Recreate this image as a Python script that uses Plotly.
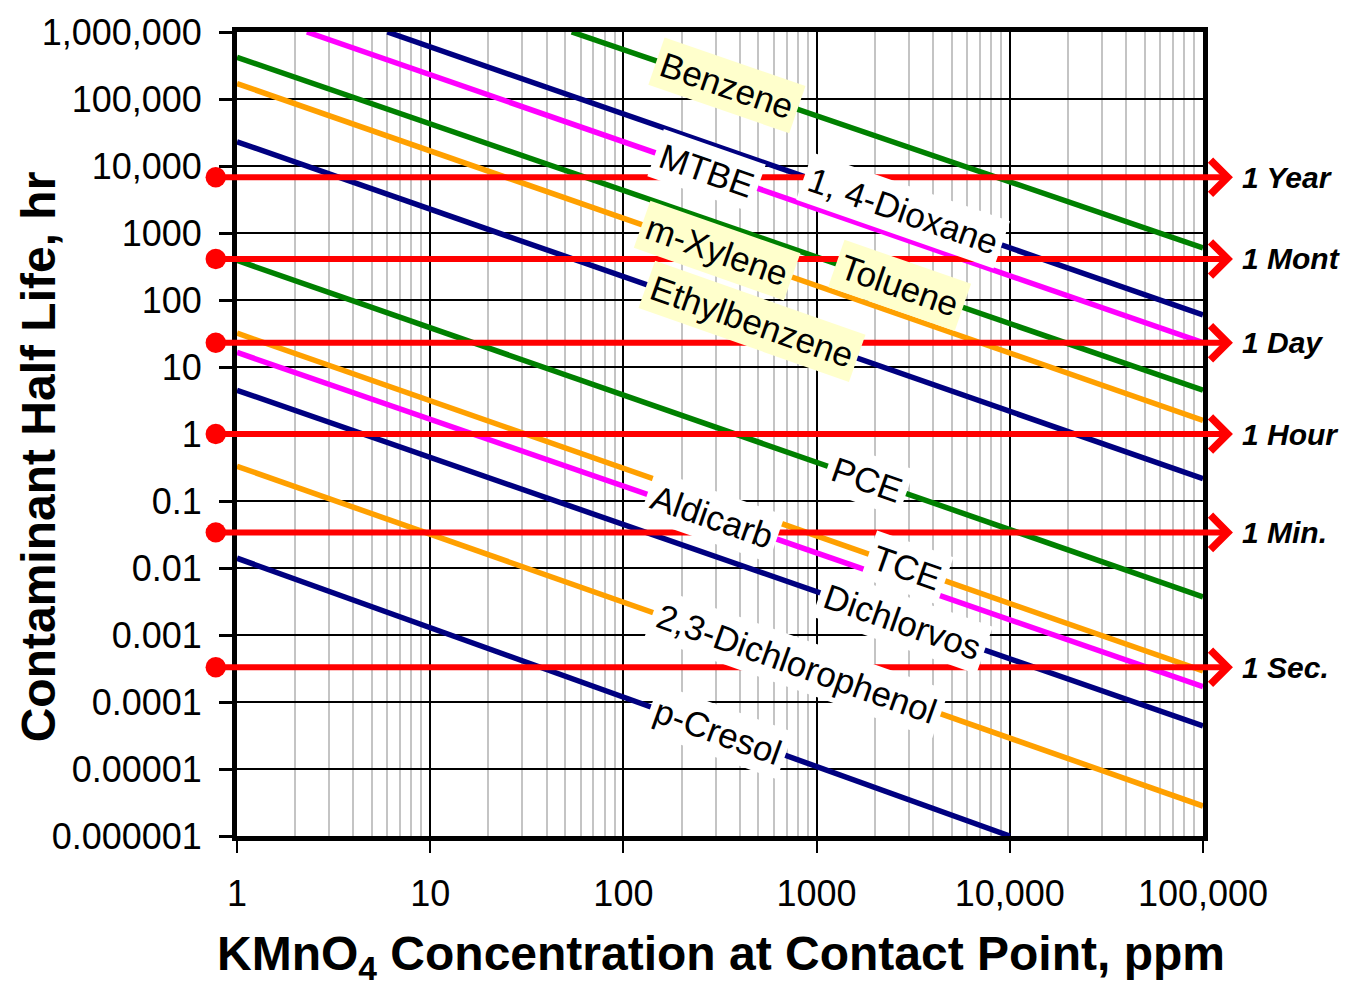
import numpy as np
import plotly.graph_objects as go

# ---------------- data ----------------
names = ["Benzene", "1, 4-Dioxane", "MTBE", "Toluene", "m-Xylene", "Ethylbenzene",
         "PCE", "TCE", "Aldicarb", "Dichlorvos", "2,3-Dichlorophenol", "p-Cresol"]
x_start = [54, 6, 2.3, 1, 1, 1, 1, 1, 1, 1, 1, 1]                      # ppm
x_end = [1e5, 1e5, 1e5, 1e5, 1e5, 1e5, 1e5, 1e5, 1e5, 1e5, 1e5, 1e4]   # ppm
y_start = [1e6, 1e6, 1e6, 4.2e5, 1.7e5, 2.3e4, 390, 32, 16.5, 4.5, 0.33, 0.014]  # hr
y_end = [600, 60, 23, 4.5, 1.6, 0.215, 0.0037, 0.00029, 0.00017, 4.4e-5, 2.8e-6, 1e-6]  # hr
label_x = [345, 2800, 270, 2700, 305, 465, 1820, 2940, 288, 2770, 790, 309]  # ppm where label sits

ref_names = ["1 Year", "1 Mont", "1 Day", "1 Hour", "1 Min.", "1 Sec."]
ref_vals = [6800, 410, 23, 1, 0.034, 0.00033]  # hr

x_tickvals = [1, 10, 100, 1000, 10000, 100000]
x_ticktext = ["1", "10", "100", "1000", "10,000", "100,000"]
y_tickvals = [1e6, 1e5, 1e4, 1e3, 1e2, 10, 1, 0.1, 0.01, 0.001, 1e-4, 1e-5, 1e-6]
y_ticktext = ["1,000,000", "100,000", "10,000", "1000", "100", "10", "1", "0.1",
              "0.01", "0.001", "0.0001", "0.00001", "0.000001"]

# ---------------- styles ----------------
line_colors = ["#008000", "#000080", "#FF00FF", "#008000", "#FFA000", "#000080",
               "#008000", "#FFA000", "#FF00FF", "#000080", "#FFA000", "#000080"]
label_bg = ["#FFFFCC", "#FFFFFF", "#FFFFFF", "#FFFFCC", "#FFFFCC", "#FFFFCC",
            "#FFFFFF", "#FFFFFF", "#FFFFFF", "#FFFFFF", "#FFFFFF", "#FFFFFF"]

W, H = 1347, 989
ML, MR, MT, MB = 237, 144, 27, 153
plot_w = W - ML - MR
plot_h = H - MT - MB
px_per_dec_x = plot_w / 5.0
px_per_dec_y = plot_h / 12.0
FONT = "Liberation Sans, Arial, sans-serif"

fig = go.Figure()

for i, n in enumerate(names):
    fig.add_trace(go.Scatter(
        x=[x_start[i], x_end[i]], y=[y_start[i], y_end[i]], mode="lines",
        line=dict(color=line_colors[i], width=5.5), name=n, showlegend=False,
        hoverinfo="skip"))

annotations = []

# reference lines (drawn as arrows so they may run outside the plot area)
for nm, v in zip(ref_names, ref_vals):
    lv = np.log10(v)
    annotations.append(dict(
        xref="x domain", yref="y", axref="x domain", ayref="y",
        x=1.031, y=lv, ax=-0.0225, ay=lv, text=" ", showarrow=True,
        arrowhead=4, arrowsize=1.1, arrowwidth=6, arrowcolor="#FF0000",
        arrowside="end+start", startarrowhead=6, startarrowsize=0.85,
        standoff=0, startstandoff=0, font=dict(size=1), borderpad=0))
    annotations.append(dict(
        xref="x domain", yref="y", x=1.038, y=lv, xanchor="left", yanchor="middle",
        text=nm, showarrow=False,
        font=dict(family=FONT, size=30, color="black", weight="bold", style="italic")))

# line labels
for i, n in enumerate(names):
    lx0, lx1 = np.log10(x_start[i]), np.log10(x_end[i])
    ly0, ly1 = np.log10(y_start[i]), np.log10(y_end[i])
    slope = (ly1 - ly0) / (lx1 - lx0)
    lx = np.log10(label_x[i])
    ly = ly0 + slope * (lx - lx0)
    ang = np.degrees(np.arctan(-slope * px_per_dec_y / px_per_dec_x))
    annotations.append(dict(
        xref="x", yref="y", x=lx, y=ly, text=n, showarrow=False, textangle=ang,
        bgcolor=label_bg[i], borderpad=5,
        font=dict(family=FONT, size=35, color="black")))

# axis titles
annotations.append(dict(
    xref="paper", yref="paper", x=(721 - ML) / plot_w, y=(MT + plot_h - 958) / plot_h,
    text="KMnO<sub>4</sub> Concentration at Contact Point, ppm", showarrow=False,
    xanchor="center", yanchor="middle",
    font=dict(family=FONT, size=48, color="black", weight="bold")))
annotations.append(dict(
    xref="paper", yref="paper", x=(38 - ML) / plot_w, y=(MT + plot_h - 455) / plot_h,
    text="Contaminant Half Life, hr", showarrow=False, textangle=-90,
    xanchor="center", yanchor="middle",
    font=dict(family=FONT, size=48, color="black", weight="bold")))

minor_x = [m * 10 ** k for k in range(5) for m in range(2, 10)]

fig.update_layout(
    width=W, height=H, margin=dict(l=ML, r=MR, t=MT, b=MB, pad=0),
    paper_bgcolor="white", plot_bgcolor="white", showlegend=False,
    annotations=annotations,
    xaxis=dict(type="log", range=[0, 5], tickmode="array", tickvals=x_tickvals,
               ticktext=x_ticktext, showgrid=True, gridcolor="black", gridwidth=2,
               showline=True, linecolor="black", linewidth=5, mirror=True,
               ticks="outside", ticklen=12, tickwidth=2, tickcolor="black",
               ticklabelstandoff=10, zeroline=False,
               tickfont=dict(family=FONT, size=36, color="black"),
               minor=dict(tickvals=minor_x, showgrid=True, gridcolor="#C4C4C4",
                          gridwidth=2, ticks="")),
    yaxis=dict(type="log", range=[-6, 6], tickmode="array", tickvals=y_tickvals,
               ticktext=y_ticktext, showgrid=True, gridcolor="black", gridwidth=2,
               showline=True, linecolor="black", linewidth=5, mirror=True,
               ticks="outside", ticklen=13, tickwidth=3, tickcolor="black",
               ticklabelstandoff=10, zeroline=False,
               tickfont=dict(family=FONT, size=36, color="black")),
)

fig.write_html("out.html")
